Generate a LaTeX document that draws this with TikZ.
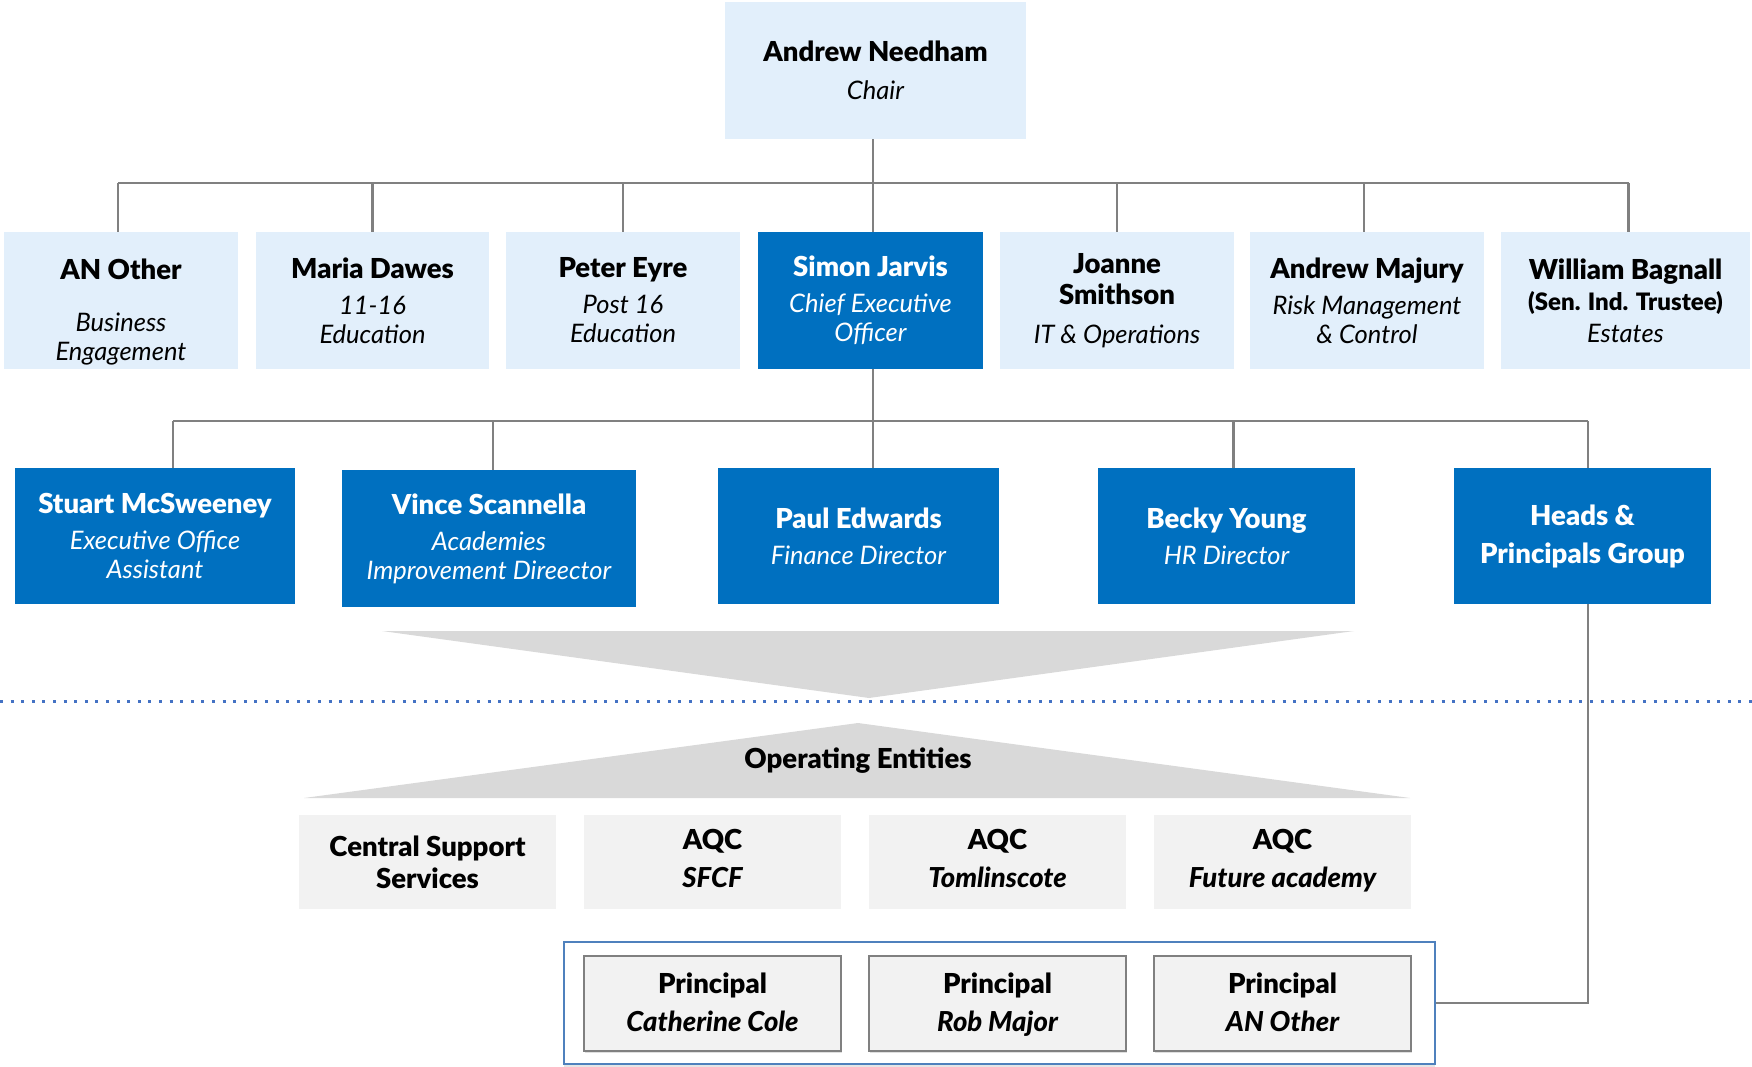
\documentclass[tikz,border=0pt]{standalone}
\usepackage{fontspec}
\setmainfont{Lato}[BoldFont={Lato Black}, BoldItalicFont={Lato Black Italic}]
\usetikzlibrary{shadows}
\definecolor{lb}{RGB}{226,239,251}
\definecolor{db}{RGB}{0,112,192}
\definecolor{eg}{RGB}{242,242,242}
\definecolor{tri}{RGB}{217,217,217}
\definecolor{conn}{RGB}{128,128,128}
\definecolor{dotc}{RGB}{68,114,196}
\definecolor{cont}{RGB}{79,129,189}
\newcommand\nmf{\fontsize{27.5}{31}\selectfont\bfseries\upshape}
\newcommand\sbf{\fontsize{25.5}{29}\selectfont\itshape}
\newcommand\dpt{\rule[-7pt]{0pt}{1pt}}
\begin{document}
\begin{tikzpicture}[x=1pt,y=-1pt,
  box/.style={rectangle, inner sep=2pt, align=center, font=\sbf},
  lbox/.style={box, fill=lb, text=black},
  dbox/.style={box, fill=db, text=white},
  ebox/.style={box, fill=eg, text=black},
  pbox/.style={box, fill=eg, text=black, draw=conn, line width=1.5pt,
     drop shadow={opacity=0.25, shadow xshift=1pt, shadow yshift=-2pt}},
  cline/.style={draw=conn, line width=2.5pt}]
\useasboundingbox (0,0) rectangle (1752,1067);

% top
\node[lbox, minimum width=301pt, minimum height=137pt] (chair) at (875.5,70.5) {{\nmf Andrew Needham}\\[9pt]Chair};

% row 1
\node[lbox, minimum width=234pt, minimum height=137pt] (anO) at (121,300.5) {{\nmf\rule{0pt}{44pt}AN Other}\\[23pt]Business\\Engagement};
\node[lbox, minimum width=233pt, minimum height=137pt] (maria) at (372.5,300.5) {{\nmf Maria Dawes}\\[7pt]11-16\\Education};
\node[lbox, minimum width=234pt, minimum height=137pt] (peter) at (623,300.5) {{\nmf Peter Eyre}\\[7pt]Post 16\\Education};
\node[dbox, minimum width=225pt, minimum height=137pt] (simon) at (870.5,300.5) {{\nmf Simon Jarvis}\\[7pt]Chief Executive\\Officer};
\node[lbox, minimum width=234pt, minimum height=137pt] (joanne) at (1117,300.5) {{\nmf Joanne}\\[2pt]{\nmf Smithson}\\[10pt]IT \& Operations};
\node[lbox, minimum width=234pt, minimum height=137pt] (majury) at (1367,300.5) {{\nmf Andrew Majury}\\[7pt]Risk Management\\\& Control};
\node[lbox, minimum width=249pt, minimum height=137pt] (william) at (1625.5,300.5) {{\nmf William Bagnall}\\[2pt]{\upshape\bfseries\fontsize{24}{29}\selectfont (Sen. Ind. Trustee)}\\[3pt]Estates};

% bus 1
\coordinate (bus1) at (873,183);
\draw[cline] (chair.south -| bus1) -- (bus1);
\draw[cline] ([xshift=-3pt]anO.north |- bus1) -- ([xshift=3pt]william.north |- bus1);
\draw[cline] ([xshift=-3pt]anO.north |- bus1) -- ([xshift=-3pt]anO.north);
\draw[cline] (maria.north |- bus1) -- (maria.north);
\draw[cline] (peter.north |- bus1) -- (peter.north);
\draw[cline] (bus1) -- (bus1 |- simon.north);
\draw[cline] (joanne.north |- bus1) -- (joanne.north);
\draw[cline] ([xshift=-3pt]majury.north |- bus1) -- ([xshift=-3pt]majury.north);
\draw[cline] ([xshift=3pt]william.north |- bus1) -- ([xshift=3pt]william.north);

% row 2
\node[dbox, minimum width=280pt, minimum height=136pt] (stuart) at (155,536) {{\nmf Stuart McSweeney}\\[7pt]Executive Office\\Assistant};
\node[dbox, minimum width=294pt, minimum height=137pt] (vince) at (489,538.5) {{\nmf Vince Scannella}\\[7pt]Academies\\Improvement Direector};
\node[dbox, minimum width=281pt, minimum height=136pt] (paul) at (858.5,536) {{\nmf Paul Edwards}\\[7pt]Finance Director};
\node[dbox, minimum width=257pt, minimum height=136pt] (becky) at (1226.5,536) {{\nmf Becky Young}\\[7pt]HR Director};
\node[dbox, minimum width=257pt, minimum height=136pt] (heads) at (1582.5,536) {{\nmf Heads \&}\\[9pt]{\nmf Principals Group}};

% bus 2
\coordinate (bus2) at (873,421);
\draw[cline] (simon.south -| bus2) -- (bus2);
\draw[cline] ([xshift=18pt]stuart.north |- bus2) -- ([xshift=5.5pt]heads.north |- bus2);
\draw[cline] ([xshift=18pt]stuart.north |- bus2) -- ([xshift=18pt]stuart.north);
\draw[cline] ([xshift=4pt]vince.north |- bus2) -- ([xshift=4pt]vince.north);
\draw[cline] ([xshift=7pt]becky.north |- bus2) -- ([xshift=7pt]becky.north);
\draw[cline] ([xshift=5.5pt]heads.north |- bus2) -- ([xshift=5.5pt]heads.north);
\draw[cline] (bus2) -- (bus2 |- paul.north);

% triangles and divider
\fill[tri] (382,631) -- (1354,631) -- (869,698) -- cycle;
\draw[dotc, line width=3pt, dash pattern=on 3pt off 7.6pt] (0,701) -- (1752,701);
\fill[tri] (304,798) -- (1410,798) -- (858,723) -- cycle;
\node[font=\nmf] (ope) at (858,761) {Operating Entities};

% entities
\node[ebox, minimum width=257pt, minimum height=94pt] (css) at (427.5,862) {{\nmf Central Support}\\[3pt]{\nmf Services}};
\node[ebox, minimum width=257pt, minimum height=94pt] (sfcf) at (712.5,862) {{\nmf AQC}\\[9pt]{\nmf\itshape SFCF\dpt}};
\node[ebox, minimum width=257pt, minimum height=94pt] (tom) at (997.5,862) {{\nmf AQC}\\[9pt]{\nmf\itshape Tomlinscote\dpt}};
\node[ebox, minimum width=257pt, minimum height=94pt] (fut) at (1282.5,862) {{\nmf AQC}\\[9pt]{\nmf\itshape Future academy\dpt}};

% principals
\node[rectangle, draw=cont, fill=white, line width=2pt, minimum width=871pt, minimum height=122pt,
  drop shadow={opacity=0.2, shadow xshift=0pt, shadow yshift=-3pt}] (container) at (999.5,1003) {};
\node[pbox, minimum width=257pt, minimum height=95pt] (p1) at (712.5,1003.5) {{\nmf\rule{0pt}{24pt}Principal}\\[9pt]{\nmf\itshape Catherine Cole\dpt}};
\node[pbox, minimum width=257pt, minimum height=95pt] (p2) at (997.5,1003.5) {{\nmf\rule{0pt}{24pt}Principal}\\[9pt]{\nmf\itshape Rob Major\dpt}};
\node[pbox, minimum width=257pt, minimum height=95pt] (p3) at (1282.5,1003.5) {{\nmf\rule{0pt}{24pt}Principal}\\[9pt]{\nmf\itshape AN Other\dpt}};

\draw[cline] (container.east) -- ([xshift=5.5pt]container.east -| heads.south) -- ([xshift=5.5pt]heads.south);
\end{tikzpicture}
\end{document}
